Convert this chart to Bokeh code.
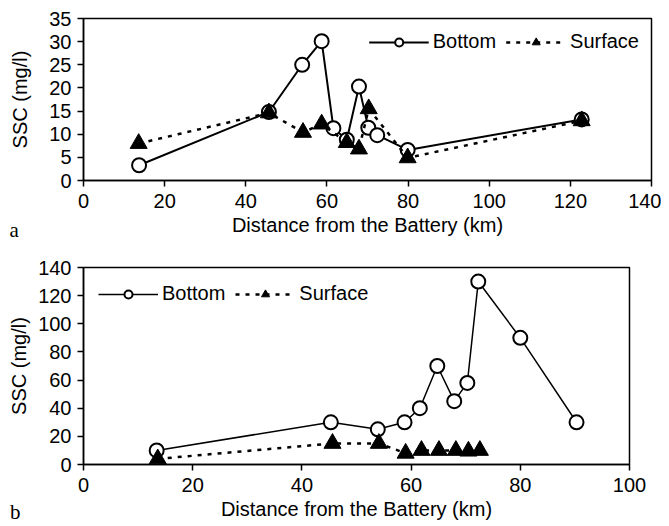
from bokeh.plotting import figure
from bokeh.layouts import column, row
from bokeh.models import Legend, LegendItem, Label, Range1d, FixedTicker
from bokeh.embed import file_html
from bokeh.resources import INLINE

# Panel a data
a_bottom_x = [13.7, 45.7, 53.9, 58.7, 61.6, 64.9, 67.9, 70.2, 72.4, 79.9, 122.8]
a_bottom_y = [3.3, 14.8, 25.0, 30.1, 11.3, 8.8, 20.3, 11.4, 9.8, 6.6, 13.2]
a_surface_x = [13.6, 45.7, 54.1, 58.7, 64.9, 67.9, 70.3, 79.9, 122.8]
a_surface_y = [8.0, 14.6, 10.4, 12.2, 8.2, 6.8, 15.5, 4.9, 12.9]

# Panel b data
b_bottom_x = [13.4, 45.3, 53.9, 58.8, 61.6, 64.8, 67.9, 70.3, 72.3, 80.0, 90.3]
b_bottom_y = [10, 30, 25, 30, 40, 70, 45, 58, 130, 90, 30]
b_surface_x = [13.6, 45.6, 54.1, 59.0, 61.9, 65.1, 68.2, 70.5, 72.6]
b_surface_y = [4, 15, 15, 8, 10, 10, 10, 9.5, 10]

a_xticks = [0, 20, 40, 60, 80, 100, 120, 140]
a_yticks = [0, 5, 10, 15, 20, 25, 30, 35]
b_xticks = [0, 20, 40, 60, 80, 100]
b_yticks = [0, 20, 40, 60, 80, 100, 120, 140]

x_title = "Distance from the Battery (km)"
y_title = "SSC (mg/l)"
labels = ["Bottom", "Surface"]

FONT = "Liberation Sans"


def make_panel(width, height, borders, xr, yr, xt, yt, bx, by, sx, sy,
               bw, ystandoff, legend_loc, legend_margin, tag, tag_pos):
    l, r, t, b = borders
    p = figure(width=width, height=height, output_backend="svg",
               toolbar_location=None, x_range=Range1d(*xr), y_range=Range1d(*yr),
               min_border_left=l, min_border_right=r, min_border_top=t,
               min_border_bottom=b)
    p.grid.visible = False
    p.outline_line_color = "black"
    p.outline_line_width = 1.5
    p.outline_line_alpha = 1
    p.xaxis.ticker = FixedTicker(ticks=xt)
    p.yaxis.ticker = FixedTicker(ticks=yt)
    for ax in (p.xaxis[0], p.yaxis[0]):
        ax.axis_line_color = "black"
        ax.axis_line_width = 1.5
        ax.major_tick_line_color = "black"
        ax.major_tick_line_width = 1.5
        ax.major_tick_out = 6
        ax.major_tick_in = 0
        ax.minor_tick_line_color = None
        ax.major_label_text_font = FONT
        ax.major_label_text_font_size = "20px"
        ax.major_label_text_color = "black"
        ax.axis_label_text_font = FONT
        ax.axis_label_text_font_size = "20px"
        ax.axis_label_text_font_style = "normal"
        ax.axis_label_text_color = "black"
    p.xaxis.axis_label = x_title
    p.yaxis.axis_label = y_title
    p.xaxis.major_label_standoff = 7
    p.xaxis.axis_label_standoff = 3
    p.yaxis.major_label_standoff = 6
    p.yaxis.axis_label_standoff = ystandoff

    lb = p.line(bx, by, line_color="black", line_width=bw)
    cb = p.scatter(bx, by, marker="circle", size=14, fill_color="white",
                   line_color="black", line_width=2)
    ls = p.line(sx, sy, line_color="black", line_width=2.5, line_dash="4 6")
    ts = p.scatter(sx, sy, marker="triangle", size=17, fill_color="black",
                   line_color="black", line_width=1)

    legend = Legend(items=[LegendItem(label=labels[0], renderers=[lb, cb]),
                           LegendItem(label=labels[1], renderers=[ls, ts])],
                    orientation="horizontal", location=legend_loc,
                    margin=legend_margin, padding=0, spacing=10,
                    glyph_width=60, glyph_height=20, label_height=20,
                    label_standoff=4, label_text_font=FONT,
                    label_text_font_size="20px", label_text_color="black",
                    border_line_color=None, background_fill_alpha=0)
    p.add_layout(legend)
    # panel tag placed in a side panel so that it is not clipped to the frame
    p.add_layout(Label(x=tag_pos[0], y=tag_pos[1],
                       text=tag, text_font="Liberation Serif", text_font_size="21px",
                       text_align="center", text_baseline="bottom", text_color="black"),
                 "right")
    return p


pa = make_panel(661, 258, (83, 10, 18, 78), (0, 140), (0, 35), a_xticks, a_yticks,
                a_bottom_x, a_bottom_y, a_surface_x, a_surface_y,
                2, 15, "top_right", 12, "a", (-17.1, -13.3))
pb = make_panel(661, 268, (83, 32, 9, 62), (0, 100), (0, 140), b_xticks, b_yticks,
                b_bottom_x, b_bottom_y, b_surface_x, b_surface_y,
                1.5, 5, "top_left", 15, "b", (-12.5, -42.5))

layout = column(row(pa), row(pb), spacing=0)
open("out.html", "w").write(file_html(layout, INLINE))
